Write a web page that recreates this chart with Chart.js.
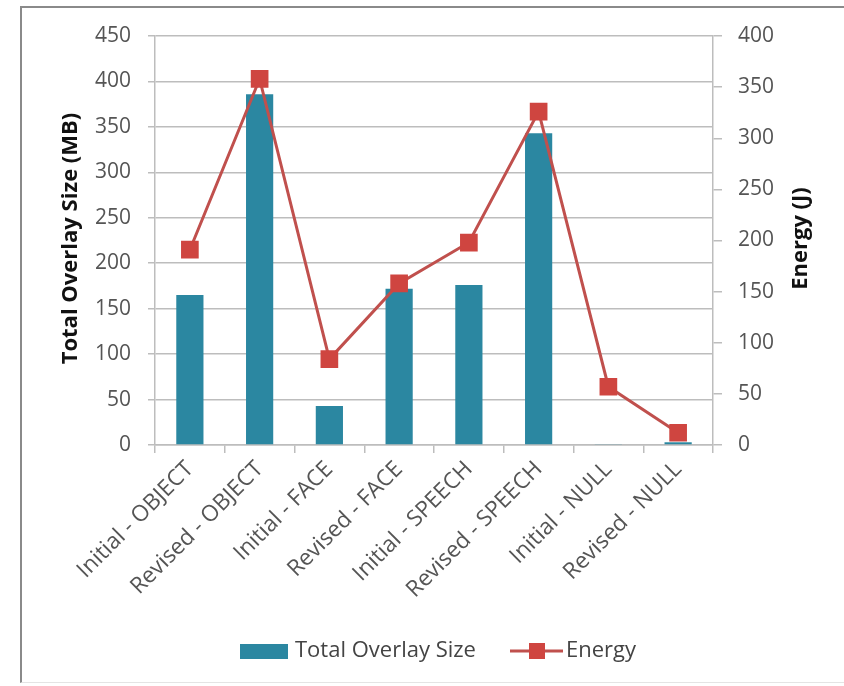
<!DOCTYPE html>
<html>
<head>
<meta charset="utf-8">
<script src="https://cdn.jsdelivr.net/npm/chart.js@4.4.1/dist/chart.umd.min.js"></script>
<style>
  html, body { margin: 0; padding: 0; background: #ffffff; }
  #frame {
    position: absolute; left: 20px; top: 6px; width: 840px; height: 674px;
    border-left: 2px solid #8a8a8a; border-top: 2px solid #8a8a8a;
    border-bottom: 1px solid #e4e4e4;
  }
  #wrap { position: absolute; left: 0; top: 0; width: 844px; height: 686px; }
</style>
</head>
<body>
<div id="frame"></div>
<div id="wrap"><canvas id="chart" width="844" height="686"></canvas></div>
<script>
// Categories and series
const categories = [
  'Initial - OBJECT', 'Revised - OBJECT', 'Initial - FACE', 'Revised - FACE',
  'Initial - SPEECH', 'Revised - SPEECH', 'Initial - NULL', 'Revised - NULL'
];
const overlaySizeMB = [165, 386, 43, 172, 176, 343, 1, 3];
const energyJ = [191, 358, 84, 158, 198, 326, 57, 12];

// Axis tick values and titles
const leftTicks = [0, 50, 100, 150, 200, 250, 300, 350, 400, 450];
const rightTicks = [0, 50, 100, 150, 200, 250, 300, 350, 400];
const leftTitle = 'Total Overlay Size (MB)';
const rightTitle = 'Energy (J)';

const barColor = '#2B87A1';
const lineColor = '#C0504D';
const markerColor = '#CF4540';
const gridColor = '#BDBDBD';
const textColor = '#555555';
const FONT = '"Open Sans", Lato, sans-serif';

// Both axis titles read bottom-to-top, centred on the plot height
const axisTitles = {
  id: 'axisTitles',
  afterDraw(chart) {
    const ctx = chart.ctx;
    const a = chart.chartArea;
    const cy = (a.top + a.bottom) / 2;
    ctx.save();
    ctx.font = 'bold 22px ' + FONT;
    ctx.fillStyle = '#111111';
    ctx.textAlign = 'center';
    ctx.textBaseline = 'middle';
    [[71, leftTitle], [801, rightTitle]].forEach(([x, t]) => {
      ctx.save();
      ctx.translate(x, cy - 2);
      ctx.rotate(-Math.PI / 2);
      ctx.fillText(t, 0, 0);
      ctx.restore();
    });
    ctx.restore();
  }
};

// Legend drawn under the axis labels, using the dataset labels and colours
const bottomLegend = {
  id: 'bottomLegend',
  afterDraw(chart) {
    const ctx = chart.ctx;
    const ds = chart.data.datasets;
    const bars = ds.find(d => d.type === 'bar');
    const line = ds.find(d => d.type === 'line');
    const y = 651;
    ctx.save();
    ctx.font = '22px ' + FONT;
    ctx.textBaseline = 'middle';
    // bar entry
    ctx.fillStyle = bars.backgroundColor;
    ctx.fillRect(240, 644, 48, 15);
    ctx.fillStyle = '#444444';
    ctx.fillText(bars.label, 295, y);
    // line entry
    ctx.strokeStyle = line.borderColor;
    ctx.lineWidth = 3;
    ctx.beginPath();
    ctx.moveTo(510, y);
    ctx.lineTo(563, y);
    ctx.stroke();
    ctx.fillStyle = line.pointBackgroundColor;
    ctx.fillRect(529, y - 8, 16, 16);
    ctx.fillStyle = '#444444';
    ctx.fillText(line.label, 566, y);
    ctx.restore();
  }
};

new Chart(document.getElementById('chart'), {
  data: {
    labels: categories,
    datasets: [
      {
        type: 'line',
        label: 'Energy',
        data: energyJ,
        yAxisID: 'yRight',
        borderColor: lineColor,
        borderWidth: 3,
        pointStyle: 'rect',
        pointRadius: 12.5,
        pointBackgroundColor: markerColor,
        pointBorderColor: markerColor,
        pointBorderWidth: 0,
        tension: 0,
        order: 0
      },
      {
        type: 'bar',
        label: 'Total Overlay Size',
        data: overlaySizeMB,
        yAxisID: 'yLeft',
        backgroundColor: barColor,
        categoryPercentage: 1,
        barPercentage: 0.39,
        order: 1
      }
    ]
  },
  options: {
    responsive: false,
    animation: false,
    devicePixelRatio: 1,
    layout: { padding: { top: 36, left: 0, right: 0, bottom: 0 } },
    plugins: { legend: { display: false }, tooltip: { enabled: false } },
    scales: {
      x: {
        type: 'category',
        offset: true,
        afterFit(scale) { scale.height = 241; },
        grid: {
          offset: true, drawOnChartArea: false, drawTicks: true,
          tickLength: 8, color: gridColor, lineWidth: 1.5
        },
        border: { display: true, color: gridColor, width: 1.5 },
        ticks: {
          minRotation: 45, maxRotation: 45, autoSkip: false, padding: 3,
          color: textColor, font: { family: FONT, size: 22.5 }
        }
      },
      yLeft: {
        type: 'linear',
        position: 'left',
        min: 0, max: 450,
        afterFit(scale) { scale.width = 155; },
        afterBuildTicks(scale) { scale.ticks = leftTicks.map(v => ({ value: v })); },
        grid: { color: gridColor, lineWidth: 1.5, tickLength: 7 },
        border: { display: true, color: gridColor, width: 1.5 },
        ticks: { padding: 17, color: textColor, font: { family: FONT, size: 21 } }
      },
      yRight: {
        type: 'linear',
        position: 'right',
        min: 0, max: 400,
        afterFit(scale) { scale.width = 131; },
        afterBuildTicks(scale) { scale.ticks = rightTicks.map(v => ({ value: v })); },
        grid: { drawOnChartArea: false, color: gridColor, lineWidth: 1.5, tickLength: 9 },
        border: { display: true, color: gridColor, width: 1.5 },
        ticks: { padding: 16, color: textColor, font: { family: FONT, size: 21 } }
      }
    }
  },
  plugins: [axisTitles, bottomLegend]
});
</script>
</body>
</html>
